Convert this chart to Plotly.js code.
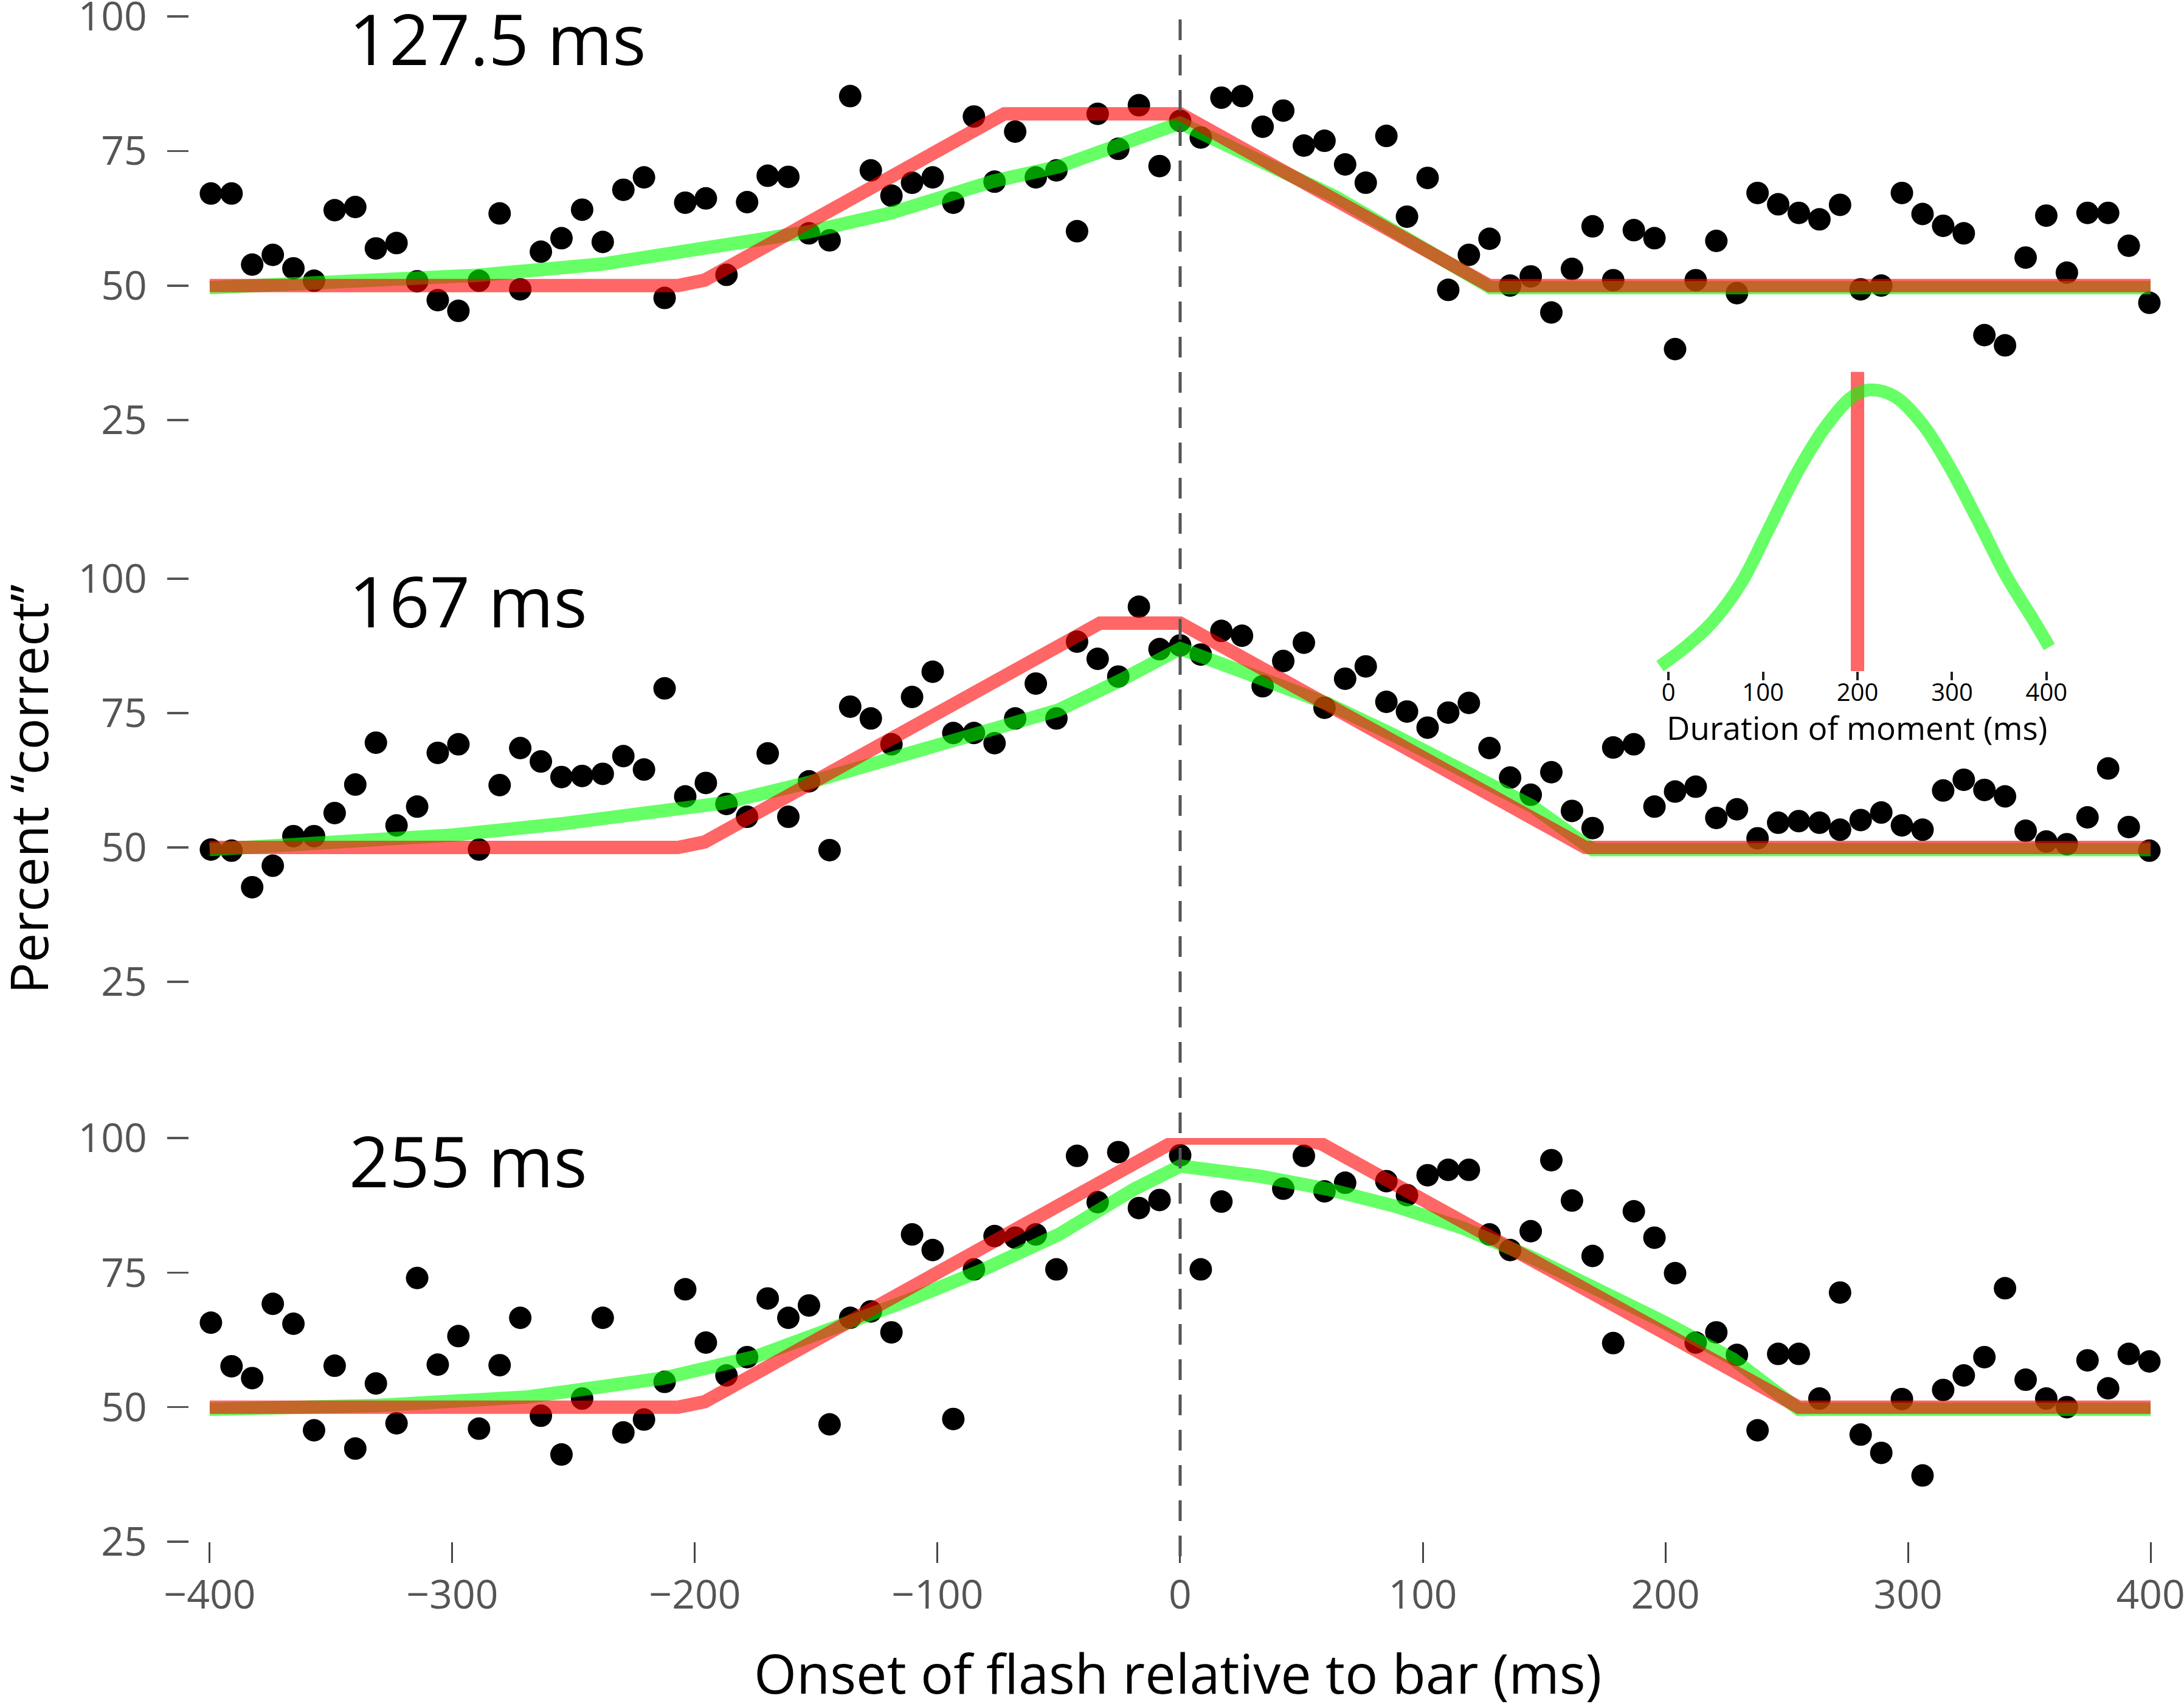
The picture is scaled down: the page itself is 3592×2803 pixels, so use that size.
<!DOCTYPE html>
<html>
<head>
<meta charset="utf-8">
<script src="https://cdn.plot.ly/plotly-3.0.1.min.js"></script>
<style>html,body{margin:0;padding:0;background:#fff;}#chart{width:3592px;height:2803px;}</style>
</head>
<body>
<div id="chart"></div>
<script>
// Onset of flash relative to bar (ms)
const onset = [-399.5,-391,-382.5,-374,-365.5,-357,-348.5,-340,-331.5,-323,-314.5,-306,-297.5,-289,-280.5,-272,-263.5,-255,-246.5,-238,-229.5,-221,-212.5,-204,-195.5,-187,-178.5,-170,-161.5,-153,-144.5,-136,-127.5,-119,-110.5,-102,-93.5,-85,-76.5,-68,-59.5,-51,-42.5,-34,-25.5,-17,-8.5,0,8.5,17,25.5,34,42.5,51,59.5,68,76.5,85,93.5,102,110.5,119,127.5,136,144.5,153,161.5,170,178.5,187,195.5,204,212.5,221,229.5,238,246.5,255,263.5,272,280.5,289,297.5,306,314.5,323,331.5,340,348.5,357,365.5,374,382.5,391,399.5];

// Percent correct, bar duration 127.5 ms
const pctTop = [67.1,67.1,53.9,55.7,53.2,50.9,64.0,64.6,56.9,57.9,50.8,47.3,45.3,50.9,63.4,49.3,56.3,58.8,64.1,58.1,67.8,70.1,47.7,65.4,66.2,52.0,65.5,70.4,70.2,59.7,58.4,85.2,71.4,66.7,69.1,70.1,65.4,81.4,69.3,78.6,70.1,71.4,60.1,81.9,75.4,83.5,72.2,80.6,
77.5,84.9,85.2,79.5,82.5,76.0,76.9,72.5,69.1,77.8,62.8,70.0,49.2,55.7,58.7,50.0,51.7,45.0,53.1,61.0,51.0,60.3,58.8,38.2,51.0,58.3,48.6,67.2,65.1,63.5,62.3,65.0,49.3,50.0,67.2,63.3,61.1,59.7,40.8,38.9,55.2,63.0,52.4,63.5,63.5,57.4,46.8];
// bar duration 167 ms
const pctMid = [49.6,49.4,42.6,46.6,52.1,52.1,56.4,61.7,69.5,54.1,57.6,67.6,69.2,49.6,61.6,68.5,66.0,63.1,63.3,63.7,67.0,64.5,79.6,59.5,62.0,58.1,55.7,67.5,55.7,62.3,49.5,76.2,74.0,69.2,78.0,82.7,71.3,71.3,69.4,74.0,80.5,74.0,88.3,85.1,81.8,94.8,86.9,87.6,
85.9,90.3,89.4,80.0,84.7,88.1,76.0,81.4,83.7,77.1,75.3,72.3,75.1,76.9,68.5,63.0,59.8,64.0,56.8,53.6,68.6,69.2,57.6,60.4,61.3,55.5,57.1,51.7,54.6,54.9,54.6,53.3,55.1,56.5,54.1,53.3,60.6,62.6,60.7,59.5,53.1,51.1,50.6,55.6,64.7,53.8,49.4];
// bar duration 255 ms
const pctBot = [65.7,57.6,55.4,69.2,65.5,45.7,57.7,42.3,54.4,47.0,74.0,57.9,63.2,46.0,57.8,66.6,48.4,41.2,51.6,66.6,45.3,47.7,54.7,71.9,62.0,55.9,59.3,70.2,66.6,68.9,46.8,66.6,67.8,63.9,82.1,79.2,47.8,75.6,81.8,81.5,82.1,75.6,96.7,88.1,97.4,87.0,88.5,96.8,
75.6,88.2,100.1,100.1,90.6,96.7,90.1,91.7,100.1,92.0,89.4,93.1,94.1,94.1,82.1,79.2,82.7,95.9,88.4,78.1,61.9,86.4,81.5,74.9,62.0,63.9,59.7,45.7,59.9,59.9,51.6,71.3,44.9,41.5,51.5,37.3,53.2,55.9,59.3,72.1,55.1,51.6,50.0,58.7,53.5,59.9,58.5];

// Green model (distribution of moment durations)
const greenTopX = [-400,-357,-290,-238,-207,-175,-153,-119,-77,-50,-25,0,64,128,400];
const greenTopY = [49.6,50.6,51.9,54.0,56.2,58.4,60.0,63.5,69.4,72.1,76.2,80.2,66.5,49.6,49.6];
const greenMidX = [-400,-347,-300,-253,-213,-188,-153,-113,-82,-50,-25,0,33,61,89,117,145,170,400];
const greenMidY = [49.6,51.2,52.3,54.5,56.9,58.3,62.1,67.5,71.3,75.6,81.0,87.0,81.5,76.7,70.7,64.2,57.7,49.6,49.6];
const greenBotX = [-400,-331,-269,-213,-175,-144,-113,-82,-50,-19,0,33,61,89,117,145,172,200,228,255,400];
const greenBotY = [49.6,50.3,51.9,55.4,59.4,64.3,69.7,75.4,82.1,90.5,94.8,92.9,90.5,87.3,83.2,77.8,71.9,65.7,58.9,49.6,49.6];

// Red model (single 200 ms moment)
const redTopX = [-400,-207,-196,-72.5,0,127.5,400];
const redTopY = [50,50,51,81.9,81.9,50,50];
const redMidX = [-400,-207,-196,-33,0,167,400];
const redMidY = [50,50,51,91.75,91.75,50,50];
const redBotX = [-400,-207,-196,0,48,58,255,400];
const redBotY = [50,50,51,100,100,99.0,50,50];

// Inset: duration of moment distribution
const insetX = [-9,18,47,77,106,136,166,195,213,239,269,298,328,357,387,403];
const insetY = [0.018,0.086,0.177,0.314,0.505,0.705,0.868,0.977,1.0,0.977,0.877,0.723,0.532,0.341,0.177,0.086];
const insetRedX = [200,200];
const insetRedY = [-0.005,1.064];

const panelLabels = ['127.5 ms','167 ms','255 ms'];
const xTicks = [-400,-300,-200,-100,0,100,200,300,400];
const yTicks = [25,50,75,100];
const insetTicks = [0,100,200,300,400];

const GREEN = 'rgba(0,255,0,0.6)';
const RED = 'rgba(255,0,0,0.6)';
const FONT = 'Open Sans, Noto Sans, sans-serif';
const LW = 22;

const panels = [
  {pct: pctTop, gx: greenTopX, gy: greenTopY, rx: redTopX, ry: redTopY, xa: 'x', ya: 'y'},
  {pct: pctMid, gx: greenMidX, gy: greenMidY, rx: redMidX, ry: redMidY, xa: 'x2', ya: 'y2'},
  {pct: pctBot, gx: greenBotX, gy: greenBotY, rx: redBotX, ry: redBotY, xa: 'x3', ya: 'y3'}
];

const traces = [];
panels.forEach(p => {
  traces.push({x: onset, y: p.pct, xaxis: p.xa, yaxis: p.ya, type: 'scatter', mode: 'markers',
    marker: {color: '#000', size: 37, line: {width: 0}}, cliponaxis: false, hoverinfo: 'skip'});
  traces.push({x: p.gx, y: p.gy, xaxis: p.xa, yaxis: p.ya, type: 'scatter', mode: 'lines',
    line: {color: GREEN, width: LW}, cliponaxis: false, hoverinfo: 'skip'});
  traces.push({x: p.rx, y: p.ry, xaxis: p.xa, yaxis: p.ya, type: 'scatter', mode: 'lines',
    line: {color: RED, width: LW}, cliponaxis: false, hoverinfo: 'skip'});
});
traces.push({x: insetRedX, y: insetRedY, xaxis: 'x4', yaxis: 'y4', type: 'scatter', mode: 'lines',
  line: {color: RED, width: 22}, cliponaxis: false, hoverinfo: 'skip'});
traces.push({x: insetX, y: insetY, xaxis: 'x4', yaxis: 'y4', type: 'scatter', mode: 'lines',
  line: {color: GREEN, width: 21, shape: 'spline'}, cliponaxis: false, hoverinfo: 'skip'});

const xRange = [-408.5, 405];
function xAx(anchor, showTicks) {
  return {domain: [0, 1], range: xRange, anchor: anchor, showgrid: false, zeroline: false, showline: false,
    ticks: showTicks ? 'outside' : '', ticklen: 34, tickwidth: 3, tickcolor: '#444',
    showticklabels: showTicks, tickvals: xTicks, ticklabelstandoff: -4, ticklabeloverflow: 'allow',
    tickfont: {family: FONT, size: 66, color: '#555'}};
}
function yAx(anchor, dom) {
  return {domain: dom, range: [25, 100], anchor: anchor, showgrid: false, zeroline: false, showline: false,
    ticks: 'outside', ticklen: 35, tickwidth: 3.5, tickcolor: '#555', tickvals: yTicks, ticklabelstandoff: 20,
    ticklabeloverflow: 'allow', tickfont: {family: FONT, size: 66, color: '#555'}};
}

const annotations = [];
['y', 'y2', 'y3'].forEach((ya, i) => {
  annotations.push({text: panelLabels[i], xref: 'x', yref: ya, x: -343, y: 96.0, xanchor: 'left', yanchor: 'middle',
    showarrow: false, font: {family: FONT, size: 116, color: '#000'}});
});
annotations.push({text: 'Percent \u201ccorrect\u201d', xref: 'paper', yref: 'paper', x: -0.0820, y: 0.4934,
  xanchor: 'center', yanchor: 'middle', textangle: -90, showarrow: false, font: {family: FONT, size: 86, color: '#000'}});
annotations.push({text: 'Onset of flash relative to bar (ms)', xref: 'paper', yref: 'paper', x: 0.5010, y: -0.0855,
  xanchor: 'center', yanchor: 'middle', showarrow: false, font: {family: FONT, size: 90, color: '#000'}});
annotations.push({text: 'Duration of moment (ms)', xref: 'paper', yref: 'paper', x: 0.8453, y: 0.5337,
  xanchor: 'center', yanchor: 'middle', showarrow: false, font: {family: FONT, size: 53, color: '#000'}});

const layout = {
  width: 3592, height: 2803,
  margin: {l: 311, r: 35, t: 27, b: 267, pad: 0},
  paper_bgcolor: '#fff', plot_bgcolor: 'rgba(0,0,0,0)',
  showlegend: false,
  font: {family: FONT},
  xaxis: xAx('y', false),
  xaxis2: xAx('y2', false),
  xaxis3: xAx('y3', true),
  yaxis: yAx('x', [0.7353, 1.0]),
  yaxis2: yAx('x2', [0.3671, 0.6313]),
  yaxis3: yAx('x3', [0, 0.2646]),
  xaxis4: {domain: [0.7400, 0.9507], range: [-20, 420], anchor: 'y4', showgrid: false, zeroline: false, showline: false,
    ticks: 'outside', ticklen: 14, tickwidth: 4, tickcolor: '#222', tickvals: insetTicks, ticklabelstandoff: -14,
    tickfont: {family: FONT, size: 40, color: '#000'}},
  yaxis4: {domain: [0.5707, 0.7736], range: [0, 1.1], anchor: 'x4', visible: false},
  shapes: [{type: 'line', xref: 'x', yref: 'paper', x0: 0, x1: 0, y0: -0.0096, y1: 1.0,
    line: {color: '#555', width: 5, dash: '34px,24px'}}],
  annotations: annotations
};

Plotly.newPlot('chart', traces, layout, {displayModeBar: false, staticPlot: true});
</script>
</body>
</html>
